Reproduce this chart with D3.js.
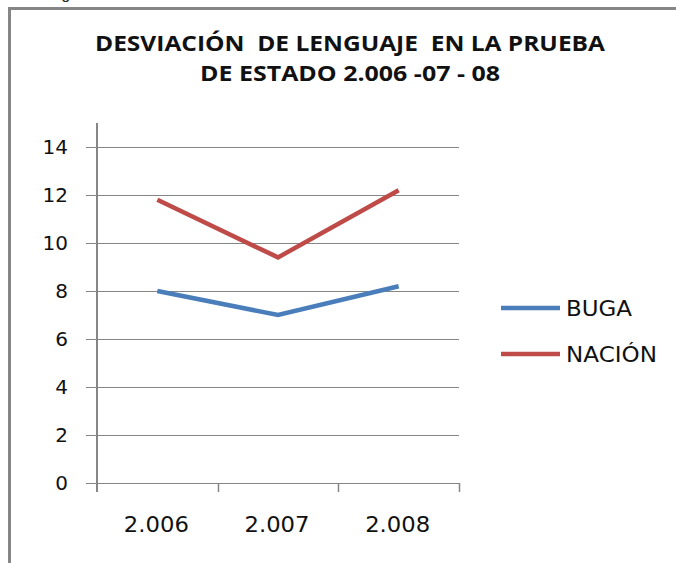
<!DOCTYPE html>
<html>
<head>
<meta charset="utf-8">
<script src="https://cdn.jsdelivr.net/npm/d3@7"></script>
<style>
  html, body { margin: 0; padding: 0; background: #fff; }
  svg { display: block; }
  text { white-space: pre; }
</style>
</head>
<body>
<svg id="chart" width="676" height="563"></svg>
<script>
// Data
const years = ["2.006", "2.007", "2.008"];
const buga = [8.0, 7.0, 8.2];
const nacion = [11.8, 9.4, 12.2];
const seriesNames = ["BUGA", "NACIÓN"];
const yTicks = [0, 2, 4, 6, 8, 10, 12, 14];
const titleLines = ["DESVIACIÓN  DE LENGUAJE  EN LA PRUEBA", "DE ESTADO 2.006 -07 - 08"];

const colors = ["#4A7EBB", "#BE4B48"];
const gridColor = "#868686";

const svg = d3.select("#chart");

// Outer frame (runs off the right and bottom edges)
svg.append("path")
  .attr("d", "M9.5,563V8.5H676")
  .attr("fill", "none")
  .attr("stroke", "#868686")
  .attr("stroke-width", 3);

// Caption above the frame, mostly cut off
svg.append("text")
  .attr("x", 48).attr("y", -1)
  .attr("font-family", "Liberation Sans, Arial, sans-serif")
  .attr("font-size", 16)
  .attr("fill", "#222")
  .text("Figura No. 6");

// Title
const titleWidths = [510, 300];
const titleBase = [51, 81];
titleLines.forEach((t, i) => {
  svg.append("text")
    .attr("x", 350).attr("y", titleBase[i])
    .attr("text-anchor", "middle")
    .attr("font-family", "Open Sans, DejaVu Sans, sans-serif")
    .attr("font-weight", "bold")
    .attr("font-size", 21.5)
    .attr("fill", "#111")
    .attr("textLength", titleWidths[i])
    .attr("lengthAdjust", "spacingAndGlyphs")
    .text(t);
});

// Scales
const x = d3.scaleBand().domain(years).range([97, 459]).padding(0);
const y = d3.scaleLinear().domain([0, 15]).range([483, 123]);

// Gridlines with left tick marks
svg.append("g").selectAll("line")
  .data(yTicks)
  .join("line")
  .attr("x1", 86).attr("x2", 459)
  .attr("y1", d => Math.round(y(d)) + 0.5)
  .attr("y2", d => Math.round(y(d)) + 0.5)
  .attr("stroke", gridColor)
  .attr("stroke-width", 1);

// Y axis line
svg.append("line")
  .attr("x1", 97).attr("x2", 97)
  .attr("y1", 123).attr("y2", 492)
  .attr("stroke", gridColor)
  .attr("stroke-width", 2);

// X axis category tick marks
const xEdges = years.map(d => x(d)).concat([x(years[years.length - 1]) + x.bandwidth()]);
svg.append("g").selectAll("line")
  .data(xEdges.slice(1))
  .join("line")
  .attr("x1", d => Math.round(d) + 0.5).attr("x2", d => Math.round(d) + 0.5)
  .attr("y1", 483).attr("y2", 492)
  .attr("stroke", gridColor)
  .attr("stroke-width", 1.5);

// Y tick labels
svg.append("g").selectAll("text")
  .data(yTicks)
  .join("text")
  .attr("x", 68)
  .attr("y", d => y(d) + 7)
  .attr("text-anchor", "end")
  .attr("font-family", "DejaVu Sans, sans-serif")
  .attr("font-size", 20)
  .attr("fill", "#111")
  .text(d => d);

// X tick labels
svg.append("g").selectAll("text")
  .data(years)
  .join("text")
  .attr("x", d => x(d) + x.bandwidth() / 2 - 1)
  .attr("y", 532)
  .attr("text-anchor", "middle")
  .attr("font-family", "DejaVu Sans, sans-serif")
  .attr("font-size", 21)
  .attr("fill", "#111")
  .attr("textLength", 65)
  .attr("lengthAdjust", "spacingAndGlyphs")
  .text(d => d);

// Series lines
const line = d3.line()
  .x((d, i) => x(years[i]) + x.bandwidth() / 2)
  .y(d => y(d));

[buga, nacion].forEach((vals, i) => {
  svg.append("path")
    .datum(vals)
    .attr("d", line)
    .attr("fill", "none")
    .attr("stroke", colors[i])
    .attr("stroke-width", 4.5)
    .attr("stroke-linejoin", "miter");
});

// Legend
const legendY = [308, 354];
const legendWidths = [66, 91];
seriesNames.forEach((name, i) => {
  svg.append("line")
    .attr("x1", 501).attr("x2", 560)
    .attr("y1", legendY[i]).attr("y2", legendY[i])
    .attr("stroke", colors[i])
    .attr("stroke-width", 4.5);
  svg.append("text")
    .attr("x", 566).attr("y", legendY[i] + 8)
    .attr("font-family", "DejaVu Sans, sans-serif")
    .attr("font-size", 21)
    .attr("fill", "#111")
    .attr("textLength", legendWidths[i])
    .attr("lengthAdjust", "spacingAndGlyphs")
    .text(name);
});
</script>
</body>
</html>
